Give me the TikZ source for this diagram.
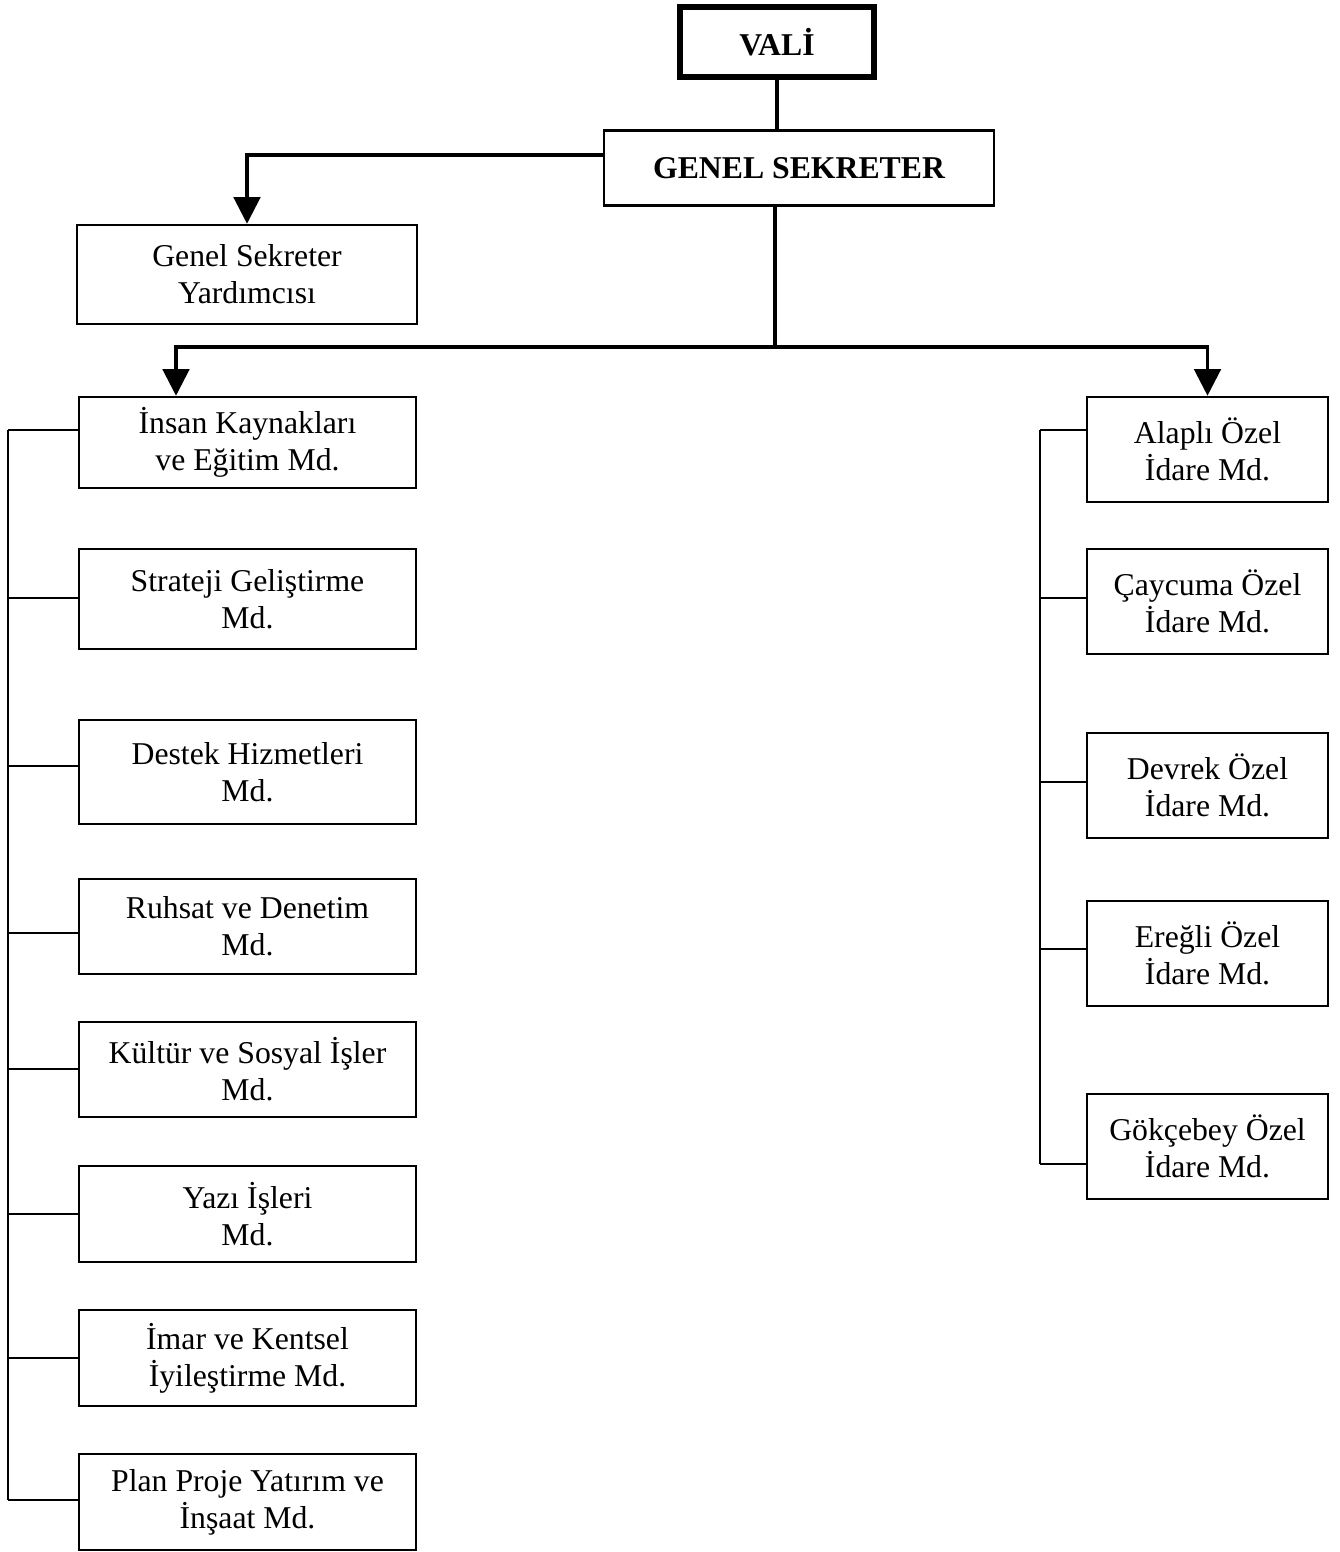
\documentclass[tikz,border=0pt]{standalone}
\usepackage{fontspec}
\setmainfont{Liberation Serif}
\usetikzlibrary{arrows.meta}
\begin{document}
\begin{tikzpicture}[x=0.75pt,y=-0.75pt,
  box/.style={draw,line width=1.9pt,align=center,inner sep=0pt,font=\fontsize{23.8}{27.75}\selectfont},
  mainline/.style={line width=2.3pt},
  branch/.style={line width=1.1pt},
  arr/.style={mainline,-{Triangle[length=20pt,width=20pt]}}]
\useasboundingbox (0,0) rectangle (1339,1552);
% top
\node[box,line width=4.5pt,minimum width=193pt*0.75/0.75*0.75/0.75,font=\fontsize{23.8}{27.75}\selectfont\bfseries,minimum width=144.8pt,minimum height=52.5pt] (vali) at (777,42) {VALİ};
\node[box,font=\fontsize{23.8}{27.75}\selectfont\bfseries,minimum width=292.5pt,minimum height=56.25pt] (gs) at (799,168) {GENEL SEKRETER};
\node[box,minimum width=255pt,minimum height=74.25pt] (gsy) at (247,274.5) {Genel Sekreter\\Yardımcısı};
% left column
\foreach \n/\yc/\h/\t in {
  l1/442.5/68.25/{İnsan Kaynakları\\ve Eğitim Md.},
  l2/599/75/{Strateji Geliştirme\\Md.},
  l3/772/78/{Destek Hizmetleri\\Md.},
  l4/926.5/71.25/{Ruhsat ve Denetim\\Md.},
  l5/1069.5/71.25/{Kültür ve Sosyal İşler\\Md.},
  l6/1214/72/{Yazı İşleri\\Md.},
  l7/1358/72/{İmar ve Kentsel\\İyileştirme Md.},
  l8/1502/72/{Plan Proje Yatırım ve\\İnşaat Md.}}
  {\node[box,minimum width=252.75pt,minimum height=\h pt] (\n) at (247.5,\yc) {\t};}
% right column
\foreach \n/\yc/\t in {
  r1/449.5/{Alaplı Özel\\İdare Md.},
  r2/601.5/{Çaycuma Özel\\İdare Md.},
  r3/785.5/{Devrek Özel\\İdare Md.},
  r4/953.5/{Ereğli Özel\\İdare Md.},
  r5/1146.5/{Gökçebey Özel\\İdare Md.}}
  {\node[box,minimum width=180.75pt,minimum height=78.75pt] (\n) at (1207.5,\yc) {\t};}
% main connectors
\draw[mainline] (vali.south) -- (vali.south |- gs.north);
\coordinate (gsl) at (604,155);
\coordinate (bus) at (775,347);
\draw[arr] (gsl) -| (gsy.north);
\draw[mainline] (gs.south -| bus) -- (bus);
\draw[arr] (bus) -| (l1.north -| 176,0);
\draw[arr] (bus) -| (r1.north);
% left branches
\coordinate (lt) at (8,430);
\coordinate (lb) at (8,1500);
\draw[branch] (lt) -- (lb);
\foreach \n/\y in {l1/430,l2/598,l3/766,l4/933,l5/1069,l6/1214,l7/1358,l8/1500}
  {\draw[branch] (8,\y) -- (\n.west |- 0,\y);}
% right branches
\coordinate (rt) at (1040,430);
\coordinate (rb) at (1040,1164);
\draw[branch] (rt) -- (rb);
\foreach \n/\y in {r1/430,r2/598,r3/782,r4/949,r5/1164}
  {\draw[branch] (1040,\y) -- (\n.west |- 0,\y);}
\end{tikzpicture}
\end{document}
